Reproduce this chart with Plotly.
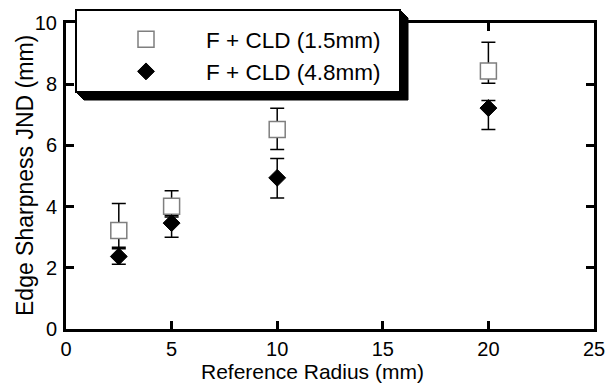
import plotly.graph_objects as go

# ---- data ----
radius = [2.5, 5, 10, 20]
thin_name = "F + CLD (1.5mm)"
thin_y = [3.22, 4.01, 6.52, 8.43]
thin_err_plus = [0.88, 0.51, 0.69, 0.94]
thin_err_minus = [0.55, 0.30, 0.65, 0.40]

thick_name = "F + CLD (4.8mm)"
thick_y = [2.37, 3.46, 4.94, 7.22]
thick_err_plus = [0.25, 0.20, 0.63, 0.25]
thick_err_minus = [0.25, 0.46, 0.66, 0.70]

x_ticks = [0, 5, 10, 15, 20, 25]
y_ticks = [0, 2, 4, 6, 8, 10]

FONT = "Arial, Liberation Sans, sans-serif"
W, H = 605, 389
L, R, T, B = 66, 11, 23, 60
PW, PH = W - L - R, H - T - B


def px(xp):
    return (xp - L) / PW


def py(yp):
    return (H - B - yp) / PH


fig = go.Figure()
fig.add_trace(go.Scatter(
    x=radius, y=thin_y, mode="markers", name=thin_name,
    marker=dict(symbol="square", size=16, color="white",
                line=dict(color="#7f7f7f", width=1.5)),
    error_y=dict(type="data", symmetric=False, array=thin_err_plus,
                 arrayminus=thin_err_minus, color="black", thickness=1.5, width=7),
))
fig.add_trace(go.Scatter(
    x=radius, y=thick_y, mode="markers", name=thick_name,
    marker=dict(symbol="diamond", size=13, color="black",
                line=dict(color="black", width=1)),
    error_y=dict(type="data", symmetric=False, array=thick_err_plus,
                 arrayminus=thick_err_minus, color="black", thickness=1.5, width=7),
))

axis_common = dict(
    showline=True, linewidth=3, linecolor="black", mirror="ticks",
    ticks="inside", ticklen=8, tickwidth=3, tickcolor="black",
    showgrid=False, zeroline=False, automargin=False,
    ticklabeloverflow="allow",
    tickfont=dict(family=FONT, size=20, color="black"),
)
fig.update_xaxes(range=[0, 25], tickvals=x_ticks, ticklabelstandoff=0, **axis_common)
fig.update_yaxes(range=[0, 10], tickvals=y_ticks, ticklabelstandoff=2, **axis_common)

# legend box with extruded shadow
bx0, by0, bx1, by1, off = 76, 10, 400, 92, 8
shadow_path = (f"M {px(bx0)},{py(by1)} L {px(bx0+off)},{py(by1+off)} "
               f"L {px(bx1+off)},{py(by1+off)} L {px(bx1+off)},{py(by0+off)} "
               f"L {px(bx1)},{py(by0)} Z")
fig.add_shape(type="path", path=shadow_path, xref="paper", yref="paper",
              fillcolor="black", line=dict(color="black", width=1), layer="above")
fig.add_shape(type="rect", xref="paper", yref="paper",
              x0=px(bx0), x1=px(bx1), y0=py(by1), y1=py(by0),
              fillcolor="white", line=dict(color="black", width=2), layer="above")

fig.update_layout(
    width=W, height=H,
    margin=dict(l=L, r=R, t=T, b=B, autoexpand=False),
    paper_bgcolor="white", plot_bgcolor="white",
    font=dict(family=FONT, color="black"),
    showlegend=True,
    legend=dict(x=px(86), y=py(18), xanchor="left", yanchor="top",
                bgcolor="rgba(0,0,0,0)", borderwidth=0,
                itemwidth=110, tracegroupgap=0,
                font=dict(family=FONT, size=22.5, color="black")),
    annotations=[
        dict(text="Edge Sharpness JND (mm)", textangle=-90, xref="paper", yref="paper",
             x=px(25), y=0.5, xanchor="center", yanchor="middle", showarrow=False,
             font=dict(family=FONT, size=23, color="black")),
        dict(text="Reference Radius (mm)", xref="paper", yref="paper",
             x=px(312), y=py(371), xanchor="center", yanchor="middle", showarrow=False,
             font=dict(family=FONT, size=21, color="black")),
    ],
)

fig.write_html("out.html", config={"displayModeBar": False},
               post_script="document.body.style.margin='0';document.body.style.padding='0';")
